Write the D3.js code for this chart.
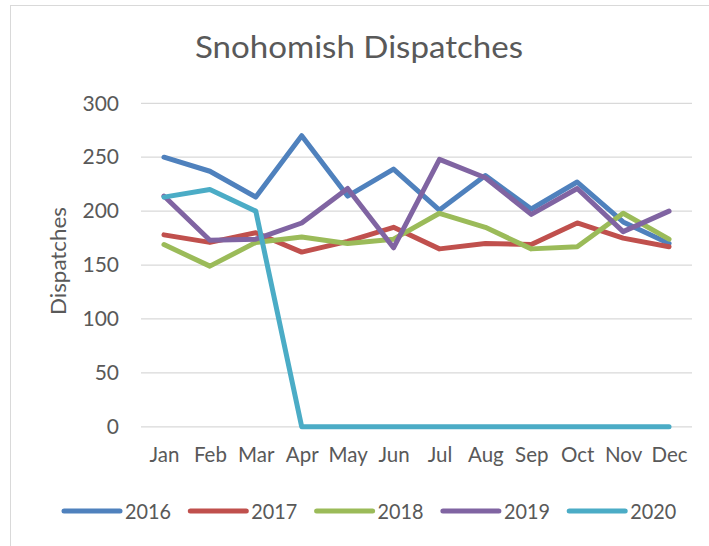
<!DOCTYPE html>
<html lang="en">
  <head>
    <meta charset="UTF-8">
    <title>Snohomish Dispatches</title>
    <style>
      html, body {
        margin: 0;
        padding: 0;
        background: #fff;
      }

      text {
        font-family: Lato, "Open Sans", sans-serif;
        fill: #595959;
      }

      .grid line {
        stroke: #d9d9d9;
        stroke-width: 1.3px;
      }

      .series {
        fill: none;
        stroke-width: 5px;
        stroke-linejoin: round;
        stroke-linecap: round;
      }
    </style>
  </head>
  <body>
    <svg width="709" height="546"></svg>
    <script src="https://cdn.jsdelivr.net/npm/d3@7"></script>
    <script>

      // data
      const months = ['Jan', 'Feb', 'Mar', 'Apr', 'May', 'Jun', 'Jul', 'Aug', 'Sep', 'Oct', 'Nov', 'Dec']
      const years = ['2016', '2017', '2018', '2019', '2020']
      const d2016 = [250, 237, 213, 270, 214, 239, 201, 233, 202, 227, 190, 170]
      const d2017 = [178, 171, 180, 162, 172, 185, 165, 170, 169, 189, 175, 167]
      const d2018 = [169, 149, 171, 176, 170, 174, 198, 185, 165, 167, 198, 174]
      const d2019 = [214, 173, 174, 189, 221, 166, 248, 231, 197, 221, 181, 200]
      const d2020 = [213, 220, 200, 0, 0, 0, 0, 0, 0, 0, 0, 0]
      const yTicks = [0, 50, 100, 150, 200, 250, 300]
      const colors = ['#4f81bd', '#c0504d', '#9bbb59', '#8064a2', '#4bacc6']

      const seriesValues = [d2016, d2017, d2018, d2019, d2020]

      const svg = d3.select('svg')

      // outer chart frame
      svg.append('rect')
        .attr('x', 10.5).attr('y', 5.5)
        .attr('width', 720).attr('height', 580)
        .attr('fill', 'none')
        .attr('stroke', '#d9d9d9')

      const plotLeft = 141, plotRight = 692, plotTop = 103.3, plotBottom = 426.8

      const x = d3.scalePoint()
        .domain(months)
        .range([plotLeft, plotRight])
        .padding(0.5)

      const y = d3.scaleLinear()
        .domain([0, 300])
        .range([plotBottom, plotTop])

      // horizontal grid lines
      svg.append('g')
        .attr('class', 'grid')
        .selectAll('line')
        .data(yTicks)
        .enter().append('line')
        .attr('x1', plotLeft).attr('x2', plotRight)
        .attr('y1', d => y(d)).attr('y2', d => y(d))

      // y axis labels
      const yAxis = svg.append('g')
        .attr('transform', 'translate(' + plotLeft + ',0)')
        .call(d3.axisLeft(y).tickValues(yTicks).tickSize(0).tickPadding(22))
      yAxis.select('.domain').remove()
      yAxis.selectAll('text')
        .attr('font-size', 21)
        .attr('fill', '#595959')
        .style('font-family', 'Lato, sans-serif')

      // x axis labels
      const xAxis = svg.append('g')
        .attr('transform', 'translate(0,' + plotBottom + ')')
        .call(d3.axisBottom(x).tickSize(0).tickPadding(21))
      xAxis.select('.domain').remove()
      xAxis.selectAll('text')
        .attr('font-size', 20.5)
        .attr('fill', '#595959')
        .style('font-family', 'Lato, sans-serif')

      // title
      svg.append('text')
        .attr('x', 195).attr('y', 58)
        .attr('font-size', 30)
        .attr('textLength', 328)
        .attr('lengthAdjust', 'spacingAndGlyphs')
        .text('Snohomish Dispatches')

      // y axis title
      svg.append('text')
        .attr('transform', 'translate(66,261) rotate(-90)')
        .attr('text-anchor', 'middle')
        .attr('font-size', 20.5)
        .attr('textLength', 108)
        .attr('lengthAdjust', 'spacingAndGlyphs')
        .text('Dispatches')

      const line = d3.line()
        .x((d, i) => x(months[i]))
        .y(d => y(d))

      svg.append('g')
        .selectAll('path')
        .data(seriesValues)
        .enter().append('path')
        .attr('class', 'series')
        .attr('stroke', (d, i) => colors[i])
        .attr('d', line)

      // legend
      const legend = svg.append('g')
        .selectAll('g')
        .data(years)
        .enter().append('g')
        .attr('transform', (d, i) => 'translate(' + (64 + i * 126.3) + ',511)')

      legend.append('line')
        .attr('x1', 0).attr('x2', 56)
        .attr('stroke', (d, i) => colors[i])
        .attr('stroke-width', 5)
        .attr('stroke-linecap', 'round')

      legend.append('text')
        .attr('x', 61)
        .attr('dy', '0.36em')
        .attr('font-size', 22)
        .attr('textLength', 46)
        .attr('lengthAdjust', 'spacingAndGlyphs')
        .text(d => d)

    </script>
  </body>
</html>
